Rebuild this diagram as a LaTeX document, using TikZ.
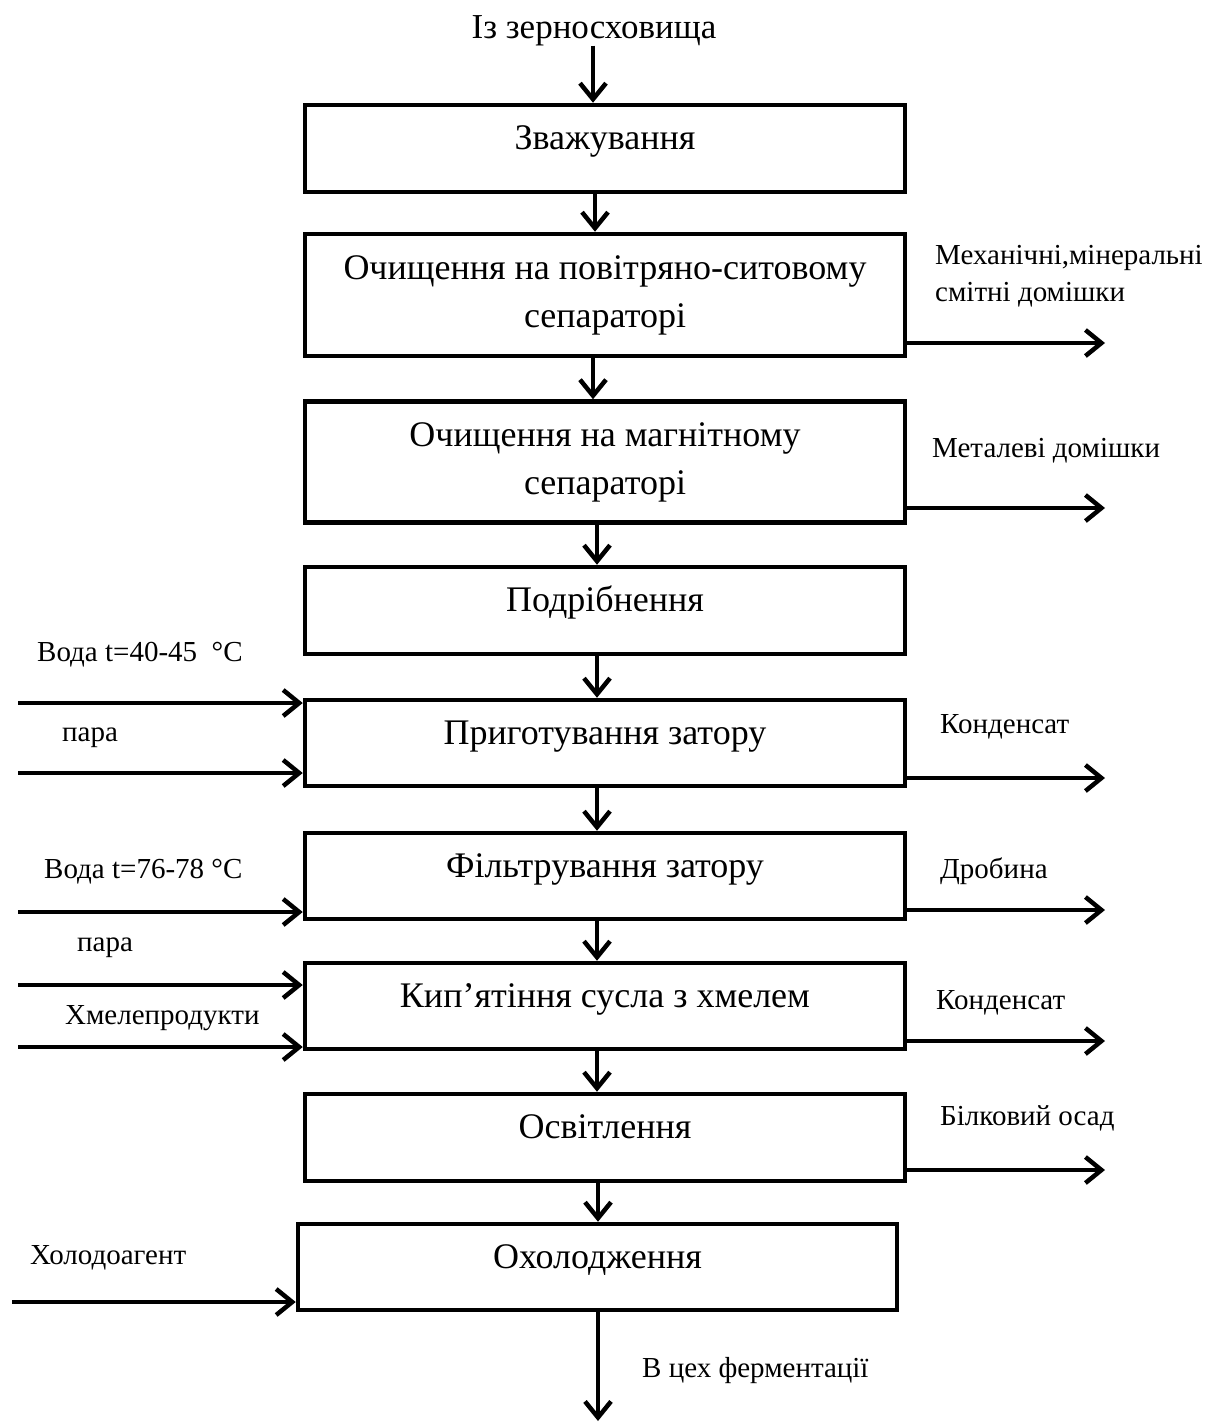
\documentclass[tikz,border=0pt]{standalone}
\usepackage{fontspec}
\setmainfont{Liberation Serif}
\usetikzlibrary{arrows.meta}
\begin{document}
\begin{tikzpicture}[x=1pt,y=-1pt,
  box/.style={draw, line width=4.5pt, minimum width=600pt, inner sep=0pt, align=center,
    font=\fontsize{36}{48}\selectfont},
  one/.style={text height=26pt, text depth=24pt},
  lbl/.style={inner sep=0pt, anchor=base west, font=\fontsize{29}{37}\selectfont},
  arr/.style={line width=4.5pt, -{Straight Barb[length=16pt,width=26pt]}}]
\useasboundingbox[fill=white] (0,0) rectangle (1209,1425);

% process boxes
\node[box, one, minimum height=87pt]  (b1) at (605,148.5) {Зважування};
\node[box, minimum height=122pt] (b2) at (605,295) {Очищення на повітряно-ситовому\\сепараторі};
\node[box, minimum height=121pt] (b3) at (605,462) {Очищення на магнітному\\сепараторі};
\node[box, one, minimum height=87pt]  (b4) at (605,610.5) {Подрібнення};
\node[box, one, minimum height=86pt]  (b5) at (605,743) {Приготування затору};
\node[box, one, minimum height=86pt]  (b6) at (605,876) {Фільтрування затору};
\node[box, one, minimum height=86pt]  (b7) at (605,1006) {Кип’ятіння сусла з хмелем};
\node[box, one, minimum height=87pt]  (b8) at (605,1137.5) {Освітлення};
\node[box, one, minimum height=86pt, minimum width=599pt] (b9) at (597.5,1267) {Охолодження};

% top and bottom
\node[inner sep=0pt, anchor=base, font=\fontsize{35}{40}\selectfont] (src) at (594,38) {Із зерносховища};
\node[lbl] (dst) at (642,1377) {В цех ферментації};

% vertical axes
\coordinate (axt) at (593,0);
\coordinate (axa) at (595,0);
\coordinate (axb) at (597,0);
\coordinate (axc) at (598,0);
\coordinate (out) at (598,1421);

\draw[arr] (src.south -| axt) -- (b1.north -| axt);
\draw[arr] (b1.south -| axa) -- (b2.north -| axa);
\draw[arr] (b2.south -| axt) -- (b3.north -| axt);
\draw[arr] (b3.south -| axb) -- (b4.north -| axb);
\draw[arr] (b4.south -| axb) -- (b5.north -| axb);
\draw[arr] (b5.south -| axb) -- (b6.north -| axb);
\draw[arr] (b6.south -| axb) -- (b7.north -| axb);
\draw[arr] (b7.south -| axb) -- (b8.north -| axb);
\draw[arr] (b8.south -| axc) -- (b9.north -| axc);
\draw[arr] (b9.south -| out) -- (out);

% right outputs
\coordinate (o2) at (1105,343);
\coordinate (o3) at (1105,508);
\coordinate (o5) at (1105,778);
\coordinate (o6) at (1105,910);
\coordinate (o7) at (1105,1041);
\coordinate (o8) at (1105,1170);
\draw[arr] (b2.east |- o2) -- (o2);
\draw[arr] (b3.east |- o3) -- (o3);
\draw[arr] (b5.east |- o5) -- (o5);
\draw[arr] (b6.east |- o6) -- (o6);
\draw[arr] (b7.east |- o7) -- (o7);
\draw[arr] (b8.east |- o8) -- (o8);

\node[lbl, anchor=north west, align=left] (r2) at (935,245) {Механічні,мінеральні\\смітні домішки};
\node[lbl] (r3) at (932,457) {Металеві домішки};
\node[lbl] (r5) at (940,733) {Конденсат};
\node[lbl] (r6) at (940,878) {Дробина};
\node[lbl] (r7) at (936,1009) {Конденсат};
\node[lbl] (r8) at (940,1125) {Білковий осад};

% left inputs
\coordinate (i5a) at (18,703);
\coordinate (i5b) at (18,773);
\coordinate (i6)  at (18,912);
\coordinate (i7a) at (18,985);
\coordinate (i7b) at (18,1047);
\coordinate (i9)  at (12,1302);
\draw[arr] (i5a) -- (b5.west |- i5a);
\draw[arr] (i5b) -- (b5.west |- i5b);
\draw[arr] (i6)  -- (b6.west |- i6);
\draw[arr] (i7a) -- (b7.west |- i7a);
\draw[arr] (i7b) -- (b7.west |- i7b);
\draw[arr] (i9)  -- (b9.west |- i9);

\node[lbl] (l5a) at (37,661) {Вода t=40-45 \ °C};
\node[lbl] (l5b) at (62,741) {пара};
\node[lbl] (l6)  at (44,878) {Вода t=76-78 °C};
\node[lbl] (l7a) at (77,951) {пара};
\node[lbl] (l7b) at (65,1024) {Хмелепродукти};
\node[lbl] (l9)  at (30,1264) {Холодоагент};
\end{tikzpicture}
\end{document}
